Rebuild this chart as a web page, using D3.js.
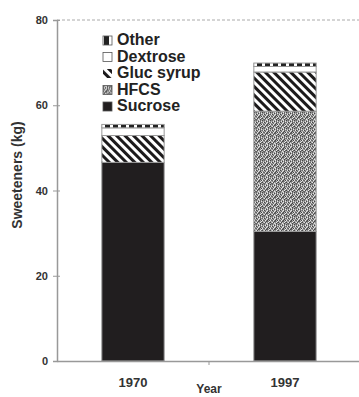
<!DOCTYPE html>
<html>
<head>
<meta charset="utf-8">
<script src="https://cdnjs.cloudflare.com/ajax/libs/d3/7.8.5/d3.min.js"></script>
<style>
  body { margin: 0; background: #fff; }
  svg { display: block; font-family: "Liberation Sans", Arial, sans-serif; }
</style>
</head>
<body>
<div id="chart"></div>
<script>
// values (kg)
var years = ["1970", "1997"];
var keys = ["Sucrose", "HFCS", "Gluc syrup", "Dextrose", "Other"];
var sucrose = [46.6, 30.4];
var hfcs = [0, 28.2];
var glucSyrup = [6.3, 9.2];
var dextrose = [1.8, 1.3];
var other = [0.8, 0.8];
var yTicks = [0, 20, 40, 60, 80];
var legendOrder = ["Other", "Dextrose", "Gluc syrup", "HFCS", "Sucrose"];

var rows = years.map(function(yr, i) {
  return { year: yr, "Sucrose": sucrose[i], "HFCS": hfcs[i], "Gluc syrup": glucSyrup[i],
           "Dextrose": dextrose[i], "Other": other[i] };
});

var width = 359, height = 397;
var svg = d3.select("#chart").append("svg")
    .attr("width", width)
    .attr("height", height);

var x = d3.scaleBand().domain(years).range([57, 361])
    .paddingInner(0.59).paddingOuter(0.295);
var y = d3.scaleLinear().domain([0, 80]).range([361, 20]);

// fill patterns
var defs = svg.append("defs");

var hatch = defs.append("pattern")
    .attr("id", "hatch")
    .attr("patternUnits", "userSpaceOnUse")
    .attr("width", 6).attr("height", 6)
    .attr("patternTransform", "rotate(45)");
hatch.append("rect").attr("width", 6).attr("height", 6).attr("fill", "#fff");
hatch.append("rect").attr("width", 6).attr("height", 3).attr("fill", "#1c1a1b");

var dash = defs.append("pattern")
    .attr("id", "dash")
    .attr("patternUnits", "userSpaceOnUse")
    .attr("width", 8).attr("height", 8);
dash.append("rect").attr("width", 8).attr("height", 8).attr("fill", "#fff");
dash.append("rect").attr("x", 1).attr("y", 0).attr("width", 5).attr("height", 8).attr("fill", "#222");

// grainy grey texture for HFCS
var grain = [
  "31203142", "20413021", "42103230", "13024112",
  "30241403", "21432021", "04120341", "32014213"
];
var shades = ["#e6e6e6", "#b0b0b0", "#8c8c8c", "#666", "#454545"];
var stip = defs.append("pattern")
    .attr("id", "stip")
    .attr("patternUnits", "userSpaceOnUse")
    .attr("width", 8).attr("height", 8);
grain.forEach(function(row, r) {
  row.split("").forEach(function(c, k) {
    stip.append("rect").attr("x", k).attr("y", r).attr("width", 1).attr("height", 1)
        .attr("fill", shades[+c]);
  });
});

var fills = {
  "Sucrose": "#211e1f",
  "HFCS": "url(#stip)",
  "Gluc syrup": "url(#hatch)",
  "Dextrose": "#fff",
  "Other": "url(#dash)"
};

// frame lines
svg.append("line")
    .attr("x1", 57).attr("x2", width).attr("y1", y(80)).attr("y2", y(80))
    .attr("stroke", "#aaa").attr("stroke-width", 1)
    .attr("stroke-dasharray", "3,2");

// stacked bars
var stack = d3.stack().keys(keys);
var series = stack(rows);

svg.append("g").selectAll("g")
    .data(series)
  .enter().append("g")
    .attr("fill", function(d) { return fills[d.key]; })
  .selectAll("rect")
    .data(function(d) { return d; })
  .enter().append("rect")
    .filter(function(d) { return d[1] - d[0] > 0; })
    .attr("x", function(d) { return x(d.data.year); })
    .attr("width", x.bandwidth())
    .attr("y", function(d) { return y(d[1]); })
    .attr("height", function(d) { return y(d[0]) - y(d[1]); })
    .attr("stroke", "#999")
    .attr("stroke-width", 1);

// y axis
var yAxis = d3.axisLeft(y).tickValues(yTicks).tickSize(4).tickPadding(5);
var gy = svg.append("g")
    .attr("transform", "translate(57,0)")
    .call(yAxis);
gy.select(".domain").attr("stroke", "#999").attr("stroke-width", 1.5);
gy.selectAll(".tick line").attr("stroke", "#999").attr("x2", -4).attr("x1", 3);
gy.selectAll(".tick text")
    .attr("font-size", 11).attr("font-weight", "bold").attr("fill", "#333");

// x axis
var xAxis = d3.axisBottom(x).tickSize(0).tickPadding(17);
var gx = svg.append("g")
    .attr("transform", "translate(0," + y(0) + ")")
    .call(xAxis);
gx.select(".domain").attr("stroke", "#999").attr("stroke-width", 1.5);
gx.selectAll(".tick text")
    .attr("font-size", 13).attr("font-weight", "bold").attr("fill", "#333");

var mid = (x("1970") + x.bandwidth() / 2 + x("1997") + x.bandwidth() / 2) / 2;
gx.append("line")
    .attr("x1", mid).attr("x2", mid).attr("y1", 0).attr("y2", 4)
    .attr("stroke", "#999");

// axis titles
svg.append("text")
    .attr("x", mid).attr("y", 393)
    .attr("text-anchor", "middle")
    .attr("font-size", 12).attr("font-weight", "bold").attr("fill", "#333")
    .text("Year");

svg.append("text")
    .attr("transform", "translate(22,175) rotate(-90)")
    .attr("text-anchor", "middle")
    .attr("font-size", 14).attr("font-weight", "bold").attr("fill", "#333")
    .text("Sweeteners (kg)");

// legend
var legend = svg.append("g").selectAll("g")
    .data(legendOrder)
  .enter().append("g")
    .attr("transform", function(d, i) { return "translate(103," + (45 + i * 16.5) + ")"; });

legend.append("rect")
    .attr("x", 0).attr("y", -9)
    .attr("width", 9).attr("height", 9)
    .attr("fill", function(d) { return fills[d]; })
    .attr("stroke", function(d) { return d == "Gluc syrup" ? "none" : "#555"; })
    .attr("stroke-width", 0.8);

legend.append("text")
    .attr("x", 14).attr("y", 0)
    .attr("font-size", 16).attr("font-weight", "bold").attr("fill", "#222")
    .text(function(d) { return d; });
</script>
</body>
</html>
